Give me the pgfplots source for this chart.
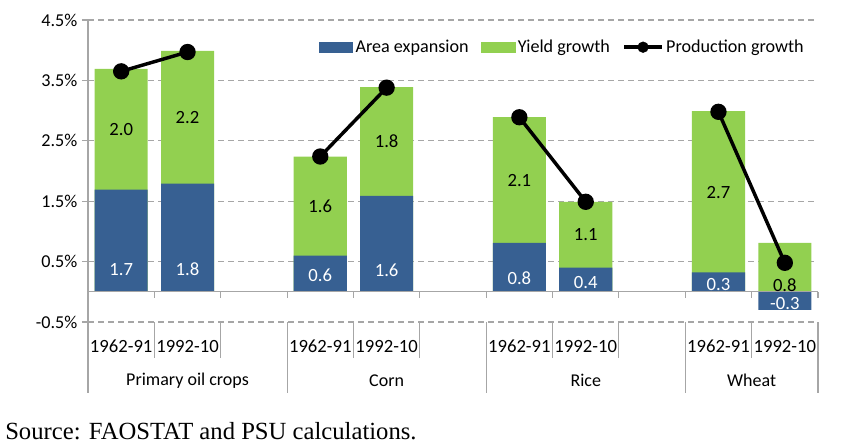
\documentclass[border=0pt]{standalone}
\usepackage{pgfplots}
\pgfplotsset{compat=1.18}
\usepackage{pgfplotstable}
\usepackage{fontspec}
\setmainfont{Carlito}
\newfontfamily\srcfont{Liberation Serif}
\definecolor{areablue}{HTML}{376092}
\definecolor{yieldgreen}{HTML}{92D050}
\definecolor{axgray}{HTML}{A6A6A6}

\pgfplotstableread{
x area yield
0 1.69 2.00
1 1.79 2.20
3 0.60 1.64
4 1.59 1.80
6 0.81 2.08
7 0.40 1.09
9 0.32 2.67
10 -0.30 0.81
}\barstab

\pgfplotstableread{
x prod
0 3.65
1 3.97
2 nan
3 2.24
4 3.38
5 nan
6 2.89
7 1.49
8 nan
9 2.98
10 0.48
}\prodtab

\pgfplotstableread{
x y lab
0 0.36 1.7
1 0.38 1.8
3 0.27 0.6
4 0.36 1.6
6 0.23 0.8
7 0.16 0.4
9 0.12 0.3
10 -0.19 -0.3
}\arealab

\pgfplotstableread{
x y lab
0 2.69 2.0
1 2.89 2.2
3 1.42 1.6
4 2.49 1.8
6 1.85 2.1
7 0.95 1.1
9 1.64 2.7
10 0.11 0.8
}\yieldlab

\begin{document}
\begin{tikzpicture}
\useasboundingbox (-66pt,-90.75pt) rectangle (570pt,241.5pt);
\begin{axis}[
  at={(0,0)}, anchor=south west,
  scale only axis, width=547.5pt, height=226.5pt,
  xmin=-0.5, xmax=10.5, ymin=-0.5, ymax=4.5,
  clip=false,
  separate axis lines,
  axis y line*=left,
  axis x line*=bottom,
  x axis line style={draw=none},
  y axis line style={draw=axgray, line width=0.8pt},
  ytick={-0.5,0.5,1.5,2.5,3.5,4.5},
  yticklabel={\pgfmathprintnumber[fixed,fixed zerofill,precision=1]{\tick}\%},
  /pgf/number format/assume math mode=true,
  ytick style={draw=axgray, line width=0.8pt},
  tick align=outside,
  major tick length=4.5pt,
  yticklabel style={font=\fontsize{13.6}{15}\selectfont, text=black},
  xtick={0,1,3,4,6,7,9,10},
  xticklabels={1962-91,1992-10,1962-91,1992-10,1962-91,1992-10,1962-91,1992-10},
  xtick style={draw=none},
  xticklabel style={font=\fontsize{14}{16}\selectfont, text=black, anchor=center, yshift=-14pt},
  ymajorgrids,
  grid style={draw=axgray, line width=0.8pt, dash pattern=on 4.5pt off 3pt},
  legend style={at={(0.99,0.91)}, anchor=east, draw=none, fill=none,
    font=\fontsize{13.6}{15}\selectfont, legend columns=-1,
    /tikz/every even column/.append style={column sep=7.5pt}},
  legend cell align=left,
]
\addplot[ybar, bar width=0.8, bar shift=0pt, fill=yieldgreen, draw=none, forget plot]
  table[x=x, y expr={\thisrow{area}>0 ? \thisrow{area}+\thisrow{yield} : \thisrow{yield}}]{\barstab};
\addplot[ybar, bar width=0.8, bar shift=0pt, fill=areablue, draw=none, forget plot]
  table[x=x, y=area]{\barstab};
\addplot[black, line width=2.6pt, mark=*, mark size=4.8pt, unbounded coords=jump, forget plot]
  table[x=x, y=prod]{\prodtab};
\addplot[only marks, mark=none, nodes near coords, point meta=explicit symbolic,
  nodes near coords style={anchor=center, text=white, font=\fontsize{14}{16}\selectfont}, forget plot]
  table[x=x, y=y, meta=lab]{\arealab};
\addplot[only marks, mark=none, nodes near coords, point meta=explicit symbolic,
  nodes near coords style={anchor=center, text=black, font=\fontsize{14}{16}\selectfont}, forget plot]
  table[x=x, y=y, meta=lab]{\yieldlab};

\addlegendimage{legend image code/.code={\fill[areablue] (0pt,-3.75pt) rectangle (25pt,3.75pt);}}
\addlegendentry{Area expansion}
\addlegendimage{legend image code/.code={\fill[yieldgreen] (0pt,-3.75pt) rectangle (25pt,3.75pt);}}
\addlegendentry{Yield growth}
\addlegendimage{legend image code/.code={\draw[black, line width=2.6pt] (0pt,0pt) -- (28pt,0pt); \fill[black] (14pt,0pt) circle (4pt);}}
\addlegendentry{Production growth}

% zero axis line and category separators
\draw[axgray, line width=0.8pt] (axis cs:-0.5,0) -- (axis cs:10.5,0);
\pgfplotsinvokeforeach{-0.5,0.5,1.5,2.5,3.5,4.5,5.5,6.5,7.5,8.5,9.5,10.5}{
  \draw[axgray, line width=0.8pt] (axis cs:#1,0) -- ([yshift=-4.5pt]axis cs:#1,0);
}
\pgfplotsinvokeforeach{0.5,1.5,3.5,4.5,6.5,7.5,9.5}{
  \draw[axgray, line width=0.8pt] (axis cs:#1,-0.5) -- ([yshift=-27pt]axis cs:#1,-0.5);
}
\pgfplotsinvokeforeach{-0.5,2.5,5.5,8.5,10.5}{
  \draw[axgray, line width=0.8pt] (axis cs:#1,-0.5) -- ([yshift=-53pt]axis cs:#1,-0.5);
}
\node[font=\fontsize{13.5}{15}\selectfont] at ([yshift=-44pt]axis cs:1,-0.5) {Primary oil crops};
\node[font=\fontsize{13.5}{15}\selectfont] at ([yshift=-44pt]axis cs:4,-0.5) {Corn};
\node[font=\fontsize{13.5}{15}\selectfont] at ([yshift=-44pt]axis cs:7,-0.5) {Rice};
\node[font=\fontsize{13.5}{15}\selectfont] at ([yshift=-44pt]axis cs:9.5,-0.5) {Wheat};
\end{axis}
\node[anchor=west, inner sep=0pt, font=\srcfont\fontsize{18.5}{21}\selectfont] at (-62.25pt,-81.5pt) {Source: FAOSTAT and PSU calculations.};
\end{tikzpicture}
\end{document}
